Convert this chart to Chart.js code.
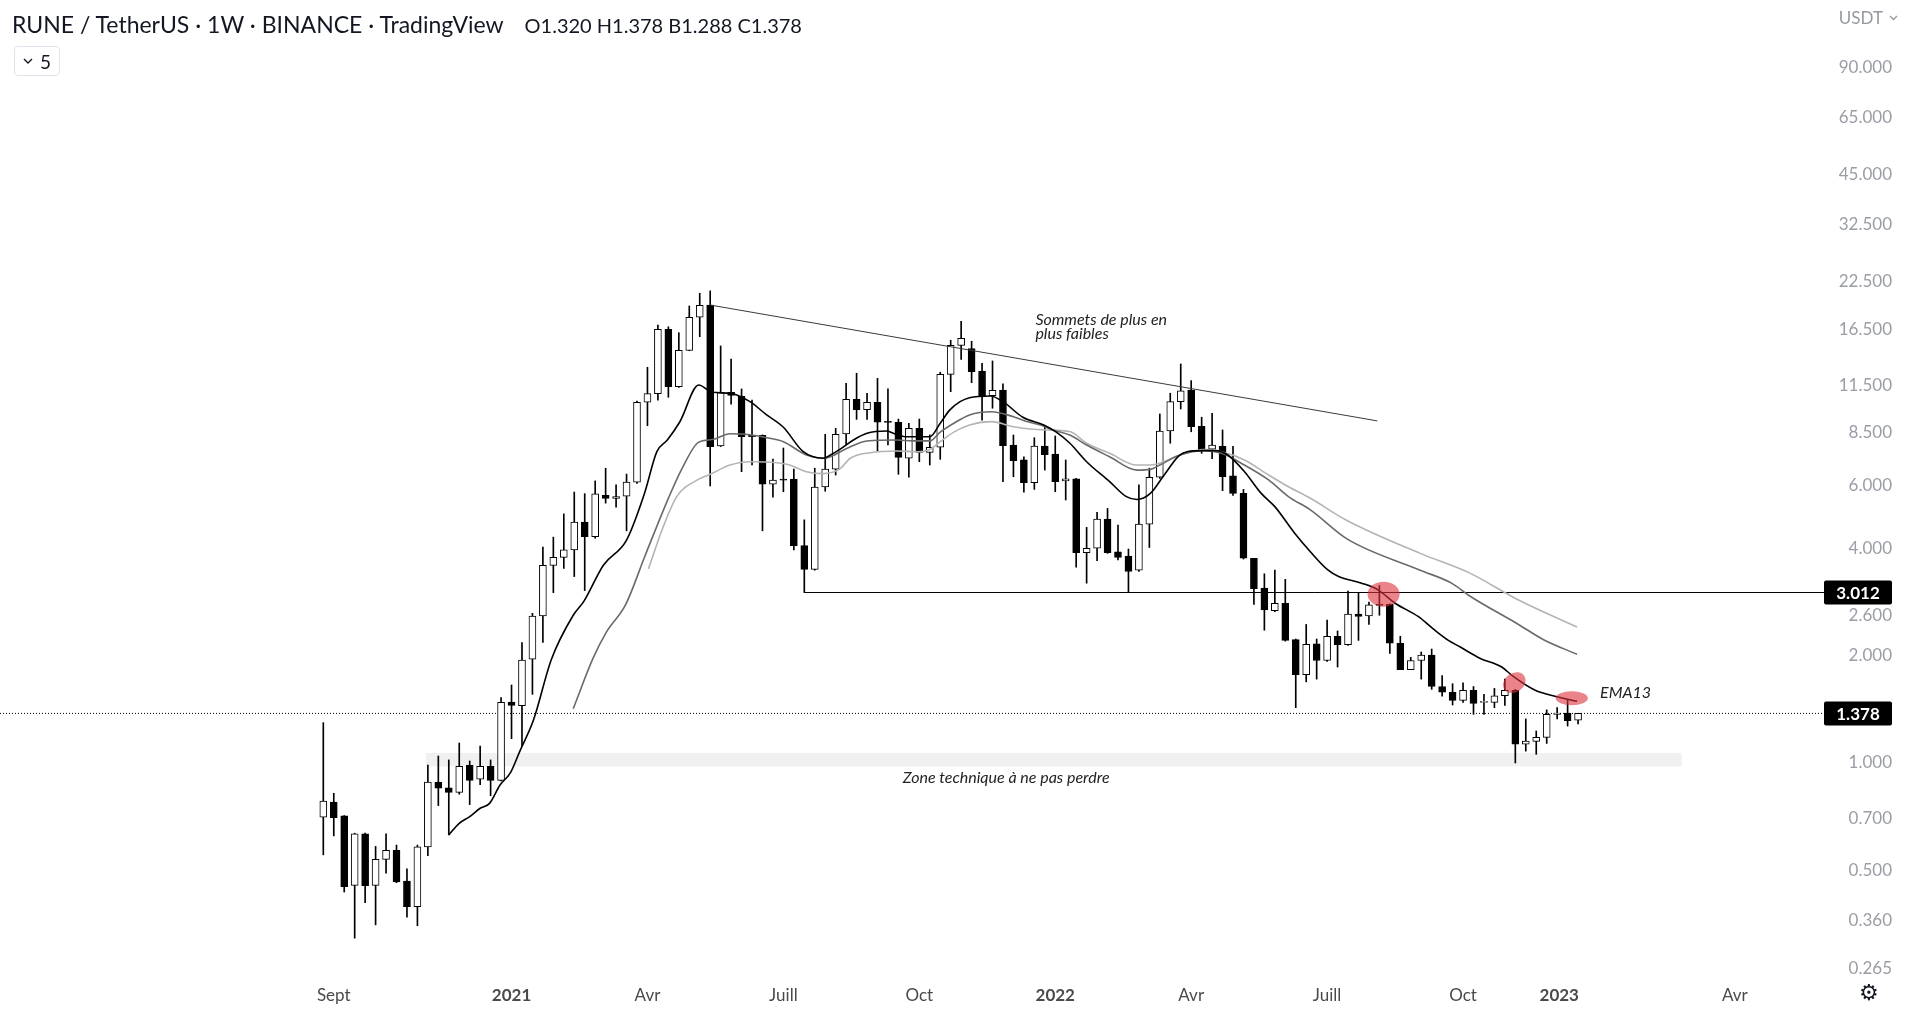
<!DOCTYPE html>
<html>
<head>
<meta charset="utf-8">
<script src="https://cdn.jsdelivr.net/npm/chart.js@4.4.1/dist/chart.umd.min.js"></script>
<style>
  html, body { margin: 0; padding: 0; background: #fff; }
  #wrap { position: relative; width: 1920px; height: 1009px; overflow: hidden; font-family: Lato, 'Noto Sans', sans-serif; color: #131722; }
  #chart-box { position: absolute; left: 0; top: 0; width: 1920px; height: 1009px; }
  .title { position: absolute; left: 12px; top: 10px; font-size: 23px; white-space: nowrap; }
  .ohlc { font-size: 20px; margin-left: 21px; }
  .interval { position: absolute; left: 14px; top: 46px; width: 46px; height: 30px; box-sizing: border-box; border: 1px solid #e0e3eb; border-radius: 4px; font-size: 19px; display: flex; align-items: center; justify-content: center; gap: 7px; }
  .currency { position: absolute; right: 22px; top: 7px; font-size: 17px; color: #9598a1; display: flex; align-items: center; gap: 6px; }
  .gear { position: absolute; left: 1859px; top: 980px; font-size: 22px; font-family: 'DejaVu Sans', sans-serif; color: #131722; }
</style>
</head>
<body>
<div id="wrap">
  <div id="chart-box"><canvas id="rune-chart"></canvas></div>
  <div class="title">RUNE / TetherUS · 1W · BINANCE · TradingView<span class="ohlc">O1.320 H1.378 B1.288 C1.378</span></div>
  <div class="interval"><svg width="10" height="7" viewBox="0 0 10 7"><polyline points="1,1 5,5 9,1" fill="none" stroke="#131722" stroke-width="1.4"/></svg><span>5</span></div>
  <div class="currency"><span>USDT</span><svg width="9" height="6" viewBox="0 0 9 6"><polyline points="1,1 4.5,4.5 8,1" fill="none" stroke="#9598a1" stroke-width="1.3"/></svg></div>
  <div class="gear">⚙</div>
</div>
<script>
// weekly candles, index 0 = week of 31 Aug 2020
const candleOpen = [
  0.704, 0.776, 0.710, 0.453, 0.632, 0.453, 0.536, 0.568, 0.466, 0.395,
  0.581, 0.883, 0.852, 0.827, 0.985, 0.900, 0.979, 0.894, 1.484, 1.449,
  1.956, 2.588, 3.59, 3.78, 3.97, 4.75, 4.32, 5.65, 5.54, 5.62,
  6.15, 10.31, 10.90, 16.53, 11.40, 14.43, 17.87, 19.34, 7.77, 11.0,
  10.74, 8.33, 8.33, 6.07, 6.27, 6.27, 4.08, 3.50, 5.96, 6.69,
  8.40, 10.51, 9.83, 10.31, 9.06, 9.06, 7.18, 8.71, 7.46, 7.71,
  12.35, 14.9, 14.6, 12.62, 10.76, 11.16, 7.82, 7.10, 6.13, 7.77,
  7.38, 6.20, 6.28, 3.90, 4.01, 4.84, 3.92, 3.81, 3.48, 4.69,
  6.35, 8.56, 10.35, 11.15, 8.83, 7.61, 7.76, 6.41, 5.72, 3.76,
  3.10, 2.68, 2.81, 2.22, 1.77, 2.16, 1.94, 2.27, 2.15, 2.62,
  2.59, 2.79, 2.79, 2.17, 1.83, 1.94, 2.01, 1.64, 1.58, 1.50,
  1.60, 1.48, 1.48, 1.545, 1.60, 1.13, 1.15, 1.18, 1.37, 1.38,
  1.320
];
const candleHigh = [
  1.298, 0.822, 0.712, 0.635, 0.635, 0.583, 0.632, 0.588, 0.504, 0.588,
  0.987, 1.046, 1.020, 1.138, 1.013, 1.116, 1.020, 1.526, 1.656, 2.178,
  2.633, 4.04, 4.31, 5.01, 5.77, 5.71, 6.20, 6.73, 6.04, 6.48,
  10.39, 12.93, 17.0, 16.8, 16.17, 19.22, 20.87, 21.2, 14.84, 13.64,
  11.24, 10.46, 8.35, 7.14, 7.67, 6.69, 4.82, 6.73, 8.38, 8.71,
  11.66, 12.44, 10.93, 12.04, 11.24, 9.25, 9.0, 9.25, 8.35, 12.52,
  15.4, 17.4, 15.3, 13.27, 13.47, 11.61, 8.34, 7.25, 8.20, 8.85,
  8.29, 7.10, 6.30, 4.59, 5.06, 5.19, 4.66, 3.99, 6.04, 6.73,
  9.56, 10.93, 13.21, 11.86, 9.36, 9.6, 8.62, 7.76, 5.87, 3.76,
  3.40, 3.48, 3.28, 2.23, 2.45, 2.23, 2.52, 2.35, 3.04, 3.00,
  2.83, 3.15, 2.80, 2.27, 1.98, 2.05, 2.09, 1.76, 1.67, 1.68,
  1.64, 1.56, 1.62, 1.72, 1.61, 1.33, 1.23, 1.41, 1.43, 1.50,
  1.378
];
const candleLow = [
  0.552, 0.624, 0.434, 0.322, 0.405, 0.351, 0.490, 0.461, 0.369, 0.349,
  0.549, 0.759, 0.628, 0.817, 0.764, 0.869, 0.809, 0.890, 1.170, 1.116,
  1.559, 2.18, 3.01, 3.52, 3.34, 3.05, 4.28, 5.37, 5.23, 4.49,
  6.10, 8.86, 10.46, 10.65, 11.35, 14.40, 15.76, 6.0, 7.74, 10.18,
  6.58, 6.88, 4.49, 5.58, 5.78, 3.97, 3.012, 3.48, 5.80, 6.44,
  7.82, 9.23, 9.23, 7.52, 7.82, 6.47, 6.35, 7.02, 6.87, 7.13,
  11.04, 13.6, 11.70, 9.19, 9.92, 6.17, 6.37, 5.76, 5.87, 6.65,
  5.78, 5.48, 3.55, 3.2, 3.70, 3.88, 3.72, 3.02, 3.45, 4.03,
  6.30, 7.91, 9.87, 8.52, 7.41, 7.16, 5.82, 5.64, 3.74, 2.79,
  2.36, 2.66, 2.20, 1.43, 1.69, 1.72, 1.93, 1.86, 2.14, 2.21,
  2.45, 2.60, 2.03, 1.83, 1.83, 1.72, 1.61, 1.54, 1.455, 1.48,
  1.37, 1.37, 1.43, 1.45, 1.00, 1.08, 1.058, 1.135, 1.33, 1.27,
  1.288
];
const candleClose = [
  0.782, 0.702, 0.449, 0.632, 0.452, 0.536, 0.568, 0.463, 0.395, 0.581,
  0.884, 0.849, 0.827, 0.979, 0.894, 0.979, 0.894, 1.481, 1.452, 1.947,
  2.588, 3.59, 3.78, 3.97, 4.75, 4.32, 5.70, 5.54, 5.60, 6.15,
  10.31, 10.90, 16.53, 11.40, 14.43, 17.87, 19.30, 7.74, 10.97, 10.78,
  8.25, 8.25, 6.07, 6.23, 6.23, 4.08, 3.50, 5.96, 6.69, 8.38,
  10.51, 9.83, 10.31, 9.06, 9.05, 7.22, 8.71, 7.46, 7.71, 12.35,
  14.9, 15.6, 12.57, 10.76, 11.14, 7.79, 7.07, 6.13, 7.77, 7.35,
  6.17, 6.28, 3.90, 4.01, 4.84, 3.90, 3.78, 3.45, 4.69, 6.35,
  8.56, 10.35, 11.11, 8.80, 7.54, 7.82, 6.37, 5.72, 3.76, 3.09,
  2.69, 2.81, 2.21, 1.77, 2.155, 1.94, 2.27, 2.15, 2.62, 2.58,
  2.78, 2.77, 2.17, 1.83, 1.94, 2.01, 1.64, 1.58, 1.50, 1.60,
  1.47, 1.48, 1.545, 1.60, 1.13, 1.153, 1.18, 1.37, 1.38, 1.315,
  1.378
];

// moving averages: [week, price]
const emaFast = [
  [12.0, 0.628], [13.0, 0.677], [14.0, 0.707], [15.0, 0.746], [15.9, 0.770], [16.9, 0.867],
  [17.9, 0.939], [18.8, 1.08], [20.1, 1.32], [21.8, 1.95], [23.9, 2.60], [24.9, 2.84],
  [26.8, 3.60], [29.0, 4.23], [30.7, 5.70], [31.9, 7.49], [32.9, 8.08], [34.1, 9.09],
  [35.9, 11.53], [37.2, 11.0], [38.9, 10.93], [40.8, 10.35], [42.4, 9.50], [44.0, 8.77],
  [45.9, 7.49], [47.8, 7.18], [48.5, 7.33], [49.4, 7.6], [50.7, 8.08], [52.0, 8.44],
  [53.9, 8.56], [54.5, 8.44], [55.8, 8.25], [58.0, 8.25], [59.0, 9.0], [59.9, 9.8],
  [60.9, 10.35], [61.8, 10.62], [63.8, 10.74], [65.0, 10.35], [66.9, 9.36], [68.9, 8.90],
  [70.1, 8.50], [71.4, 7.91], [73.0, 7.02], [75.2, 6.17], [76.8, 5.60], [77.8, 5.50],
  [79.1, 5.72], [80.3, 6.37], [81.8, 7.28], [82.6, 7.49], [84.3, 7.54], [85.3, 7.54],
  [86.5, 7.33], [88.1, 6.58], [89.7, 5.72], [91.0, 5.25], [92.9, 4.42], [94.4, 3.92],
  [96.1, 3.48], [97.1, 3.34], [99.3, 3.20], [100.9, 3.06], [102.5, 2.81], [104.7, 2.58],
  [106.3, 2.36], [107.6, 2.21], [108.7, 2.12], [110.6, 1.97], [112.7, 1.86], [113.8, 1.75],
  [115.9, 1.60], [117.8, 1.54], [119.9, 1.49]
];
const emaMid = [
  [23.9, 1.42], [25.8, 1.97], [27.1, 2.34], [28.9, 2.78], [30.8, 3.84], [33.0, 5.54],
  [34.4, 6.80], [35.9, 7.97], [37.2, 8.1], [38.9, 8.41], [40.8, 8.36], [42.4, 8.20],
  [44.0, 7.99], [46.2, 7.33], [47.8, 7.18], [48.5, 7.25], [50.1, 7.66], [52.0, 8.03],
  [54.8, 8.08], [56.4, 8.03], [58.0, 8.03], [59.0, 8.5], [60.3, 9.0], [61.8, 9.50],
  [63.9, 9.70], [66.0, 9.39], [67.3, 9.10], [68.6, 8.90], [69.8, 8.62], [71.4, 8.34],
  [73.0, 7.82], [75.2, 7.25], [77.8, 6.65], [79.1, 6.68], [80.0, 6.87], [81.9, 7.33],
  [84.3, 7.54], [85.9, 7.41], [88.1, 6.87], [90.4, 6.24], [92.3, 5.60], [94.4, 5.14],
  [97.9, 4.26], [104.9, 3.48], [107.9, 3.20], [109.6, 2.95], [114.3, 2.45], [116.7, 2.22],
  [119.9, 2.02]
];
const emaSlow = [
  [31.1, 3.51], [32.5, 4.6], [33.8, 5.6], [35.9, 6.27], [37.0, 6.47], [38.9, 6.87],
  [40.8, 7.02], [43.4, 6.97], [44.6, 6.87], [46.2, 6.58], [47.8, 6.50], [49.4, 6.7],
  [50.4, 7.18], [52.3, 7.44], [54.8, 7.52], [56.8, 7.49], [58.0, 7.60], [59.0, 7.99],
  [60.3, 8.5], [61.8, 8.90], [63.9, 9.10], [66.0, 8.80], [67.6, 8.67], [69.2, 8.62],
  [71.4, 8.53], [73.0, 7.91], [75.2, 7.41], [77.8, 6.87], [79.1, 6.87], [80.0, 6.95],
  [81.9, 7.33], [84.3, 7.60], [85.9, 7.49], [88.1, 7.10], [90.4, 6.44], [92.3, 5.97],
  [94.4, 5.54], [97.9, 4.80], [104.9, 3.88], [109.6, 3.42], [114.3, 2.87], [119.9, 2.41]
];

const priceTicks = [0.265, 0.36, 0.5, 0.7, 1, 1.4, 2, 2.6, 3, 4, 6, 8.5, 11.5, 16.5, 22.5, 32.5, 45, 65, 90];
const timeTickWeeks = [1, 18, 31, 44, 57, 70, 83, 96, 109, 118.2, 135];
const timeTickLabels = ['Sept', '2021', 'Avr', 'Juill', 'Oct', '2022', 'Avr', 'Juill', 'Oct', '2023', 'Avr'];

// drawings
const trendLine = [[37, 19.34], [100.8, 9.14]];
const supportLevel = 3.012;
const supportStart = 46;
const lastPrice = 1.378;
const zoneBox = [9.8, 129.9, 0.978, 1.067];
const notes = [
  ['Sommets de plus en', 68.1, 17.55, 'left'],
  ['plus faibles', 68.1, 16.04, 'left'],
  ['Zone technique à ne pas perdre', 65.3, 0.910, 'center'],
  ['EMA13', 122.1, 1.573, 'left']
];
const marks = [[101.4, 2.98, 16, 12.5, 0], [113.9, 1.681, 12, 9.5, -0.6], [119.4, 1.520, 16, 7, 0]];

const xMin = -30.92;
const xMax = 143.52;
const yMin = 0.2441;
const yMax = 139.1;
const axisFont = '17px Lato';

const fmtPrice = (v) => Number(v).toFixed(3);

const measureCtx = document.createElement('canvas').getContext('2d');
measureCtx.font = axisFont;
const widestPrice = Math.max(...priceTicks.map((v) => measureCtx.measureText(fmtPrice(v)).width));

const wickData = candleHigh.map((h, i) => ({ x: i, y: [candleLow[i], h] }));
const bodyData = candleOpen.map((o, i) => ({ x: i, y: [Math.min(o, candleClose[i]), Math.max(o, candleClose[i])] }));
const bodyFill = candleOpen.map((o, i) => (candleClose[i] >= o ? '#ffffff' : '#000000'));
const toPoints = (arr) => arr.map(([x, y]) => ({ x, y }));

const drawingsPlugin = {
    id: 'drawings',
    beforeDatasetsDraw(chart) {
        const { ctx, scales: { x, y } } = chart;
        const [w0, w1, p0, p1] = zoneBox;
        ctx.save();
        ctx.fillStyle = '#f0f0f0';
        const left = x.getPixelForValue(w0);
        const top = y.getPixelForValue(p1);
        ctx.fillRect(left, top, x.getPixelForValue(w1) - left, y.getPixelForValue(p0) - top);
        ctx.restore();
    },
    afterDatasetsDraw(chart) {
        const { ctx, scales: { x, y } } = chart;
        ctx.save();
        ctx.fillStyle = '#222';
        ctx.font = 'italic 16px Lato';
        ctx.textBaseline = 'middle';
        notes.forEach(([text, wk, price, align]) => {
            ctx.textAlign = align;
            ctx.fillText(text, x.getPixelForValue(wk), y.getPixelForValue(price));
        });
        ctx.fillStyle = 'rgba(220, 50, 60, 0.6)';
        marks.forEach(([wk, price, rx, ry, rot]) => {
            ctx.beginPath();
            ctx.ellipse(x.getPixelForValue(wk), y.getPixelForValue(price), rx, ry, rot, 0, Math.PI * 2);
            ctx.fill();
        });
        ctx.restore();
    },
    afterDraw(chart) {
        const { ctx, chartArea, scales: { y } } = chart;
        ctx.save();
        ctx.font = 'bold 17px Lato';
        ctx.textAlign = 'center';
        ctx.textBaseline = 'middle';
        [supportLevel, lastPrice].forEach((level) => {
            const py = y.getPixelForValue(level);
            ctx.fillStyle = '#000';
            ctx.beginPath();
            ctx.roundRect(chartArea.right, py - 12, 68, 24, 2);
            ctx.fill();
            ctx.fillStyle = '#fff';
            ctx.fillText(fmtPrice(level), chartArea.right + 34, py + 1);
        });
        ctx.restore();
    }
};

new Chart(document.getElementById('rune-chart'), {
    type: 'bar',
    data: {
        datasets: [
            { type: 'line', data: toPoints(emaFast), borderColor: '#000', borderWidth: 1.6, pointRadius: 0, cubicInterpolationMode: 'monotone', order: 0 },
            { type: 'line', data: toPoints(emaMid), borderColor: '#6a6a6a', borderWidth: 1.6, pointRadius: 0, cubicInterpolationMode: 'monotone', order: 0 },
            { type: 'line', data: toPoints(emaSlow), borderColor: '#b4b4b4', borderWidth: 1.6, pointRadius: 0, cubicInterpolationMode: 'monotone', order: 0 },
            { type: 'line', data: toPoints(trendLine), borderColor: '#3a3a3a', borderWidth: 1, pointRadius: 0, order: 0 },
            { type: 'line', data: [{ x: supportStart, y: supportLevel }, { x: xMax, y: supportLevel }], borderColor: '#000', borderWidth: 1, pointRadius: 0, order: 0 },
            { data: bodyData, backgroundColor: bodyFill, borderColor: '#000', borderWidth: 1, borderSkipped: false, barThickness: 7, minBarLength: 1, grouped: false, order: 1 },
            { data: wickData, backgroundColor: '#000', borderWidth: 0, barThickness: 1, grouped: false, order: 2 },
            { type: 'line', data: [{ x: xMin, y: lastPrice }, { x: xMax, y: lastPrice }], borderColor: '#000', borderWidth: 1, borderDash: [1, 2], pointRadius: 0, order: 3 }
        ]
    },
    options: {
        responsive: true,
        maintainAspectRatio: false,
        animation: false,
        layout: { padding: { left: 0, top: 0, bottom: 0, right: 28 } },
        plugins: { legend: { display: false }, tooltip: { enabled: false } },
        scales: {
            x: {
                type: 'linear',
                min: xMin,
                max: xMax,
                offset: false,
                bounds: 'data',
                grid: { display: false, drawTicks: false },
                border: { display: false },
                afterBuildTicks: (scale) => { scale.ticks = timeTickWeeks.map((value) => ({ value })); },
                afterFit: (scale) => { scale.height = 28; scale.paddingLeft = 0; scale.paddingRight = 0; },
                ticks: {
                    autoSkip: false,
                    maxRotation: 0,
                    padding: 4,
                    color: '#4a4a4a',
                    font: (ctx) => ({ family: 'Lato', size: 17, weight: /^\d{4}$/.test(timeTickLabels[ctx.index] || '') ? 'bold' : 'normal' }),
                    callback: (value, index) => timeTickLabels[index]
                }
            },
            y: {
                type: 'logarithmic',
                position: 'right',
                min: yMin,
                max: yMax,
                bounds: 'data',
                grid: { display: false, drawTicks: false },
                border: { display: false },
                afterBuildTicks: (scale) => { scale.ticks = priceTicks.map((value) => ({ value })); },
                afterFit: (scale) => { scale.width = 68; scale.paddingTop = 0; scale.paddingBottom = 0; },
                ticks: {
                    autoSkip: false,
                    crossAlign: 'far',
                    padding: 68 - widestPrice,
                    color: '#9a9da6',
                    font: { family: 'Lato', size: 17 },
                    callback: (value) => fmtPrice(value)
                }
            }
        }
    },
    plugins: [drawingsPlugin]
});
</script>
</body>
</html>
